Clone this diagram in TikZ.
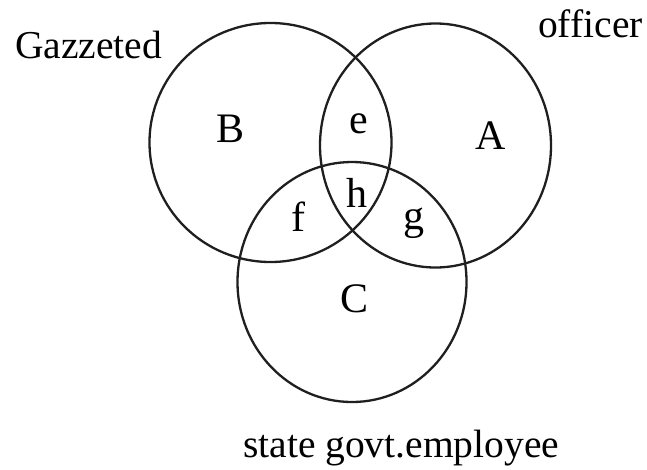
\documentclass[tikz,border=0pt]{standalone}
\usepackage{fontspec}
\setmainfont{Liberation Serif}
\begin{document}
\begin{tikzpicture}[x=1pt,y=-1pt,
  setc/.style={draw=black!88,line width=2.3pt},
  lbl/.style={inner sep=0pt,anchor=base west,font=\fontsize{39.5}{40}\selectfont},
  reg/.style={inner sep=0pt,anchor=center,font=\fontsize{42}{44}\selectfont}]
\useasboundingbox (0,0) rectangle (647,469);
\draw[setc] (270.5,142.5) ellipse [x radius=121, y radius=119.5];
\draw[setc] (435.5,145.5) ellipse [x radius=115.5, y radius=122];
\draw[setc] (352,282) ellipse [x radius=114.5, y radius=120];
\node[lbl] (gaz) at (15,58) {Gazzeted};
\node[lbl] (off) at (538,37) {officer};
\node[lbl] (sge) at (243,457) {state govt.employee};
\node[reg] (B) at (231,128.5) {B};
\node[reg] (e) at (359,123.5) {e};
\node[reg] (A) at (491,135.5) {A};
\node[reg] (h) at (356.5,192.5) {h};
\node[reg] (f) at (298,216.5) {f};
\node[reg] (g) at (413.5,223.5) {g};
\node[reg] (C) at (354.5,299) {C};
\end{tikzpicture}
\end{document}
